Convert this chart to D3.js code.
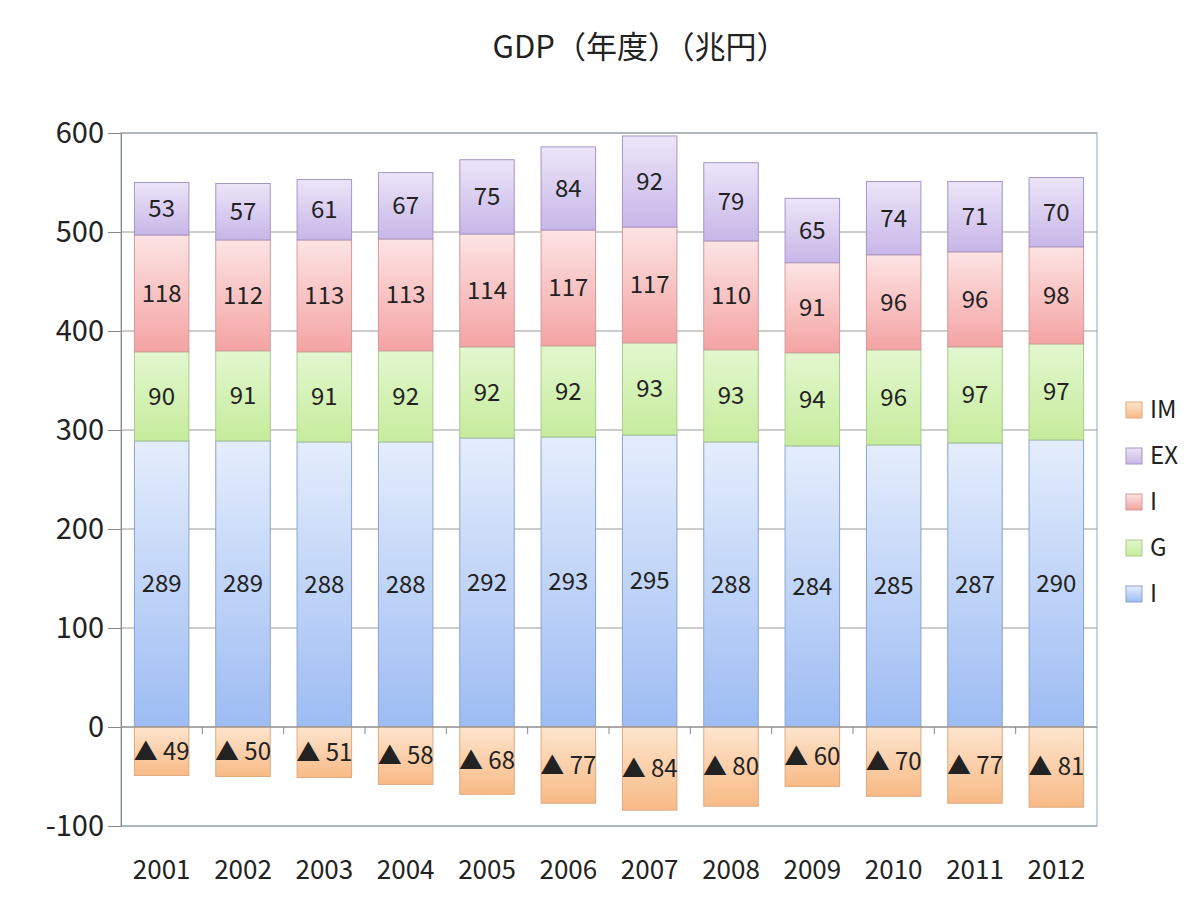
<!DOCTYPE html>
<html>
<head>
<meta charset="utf-8">
<script src="https://cdn.jsdelivr.net/npm/d3@7"></script>
<style>
  body { margin: 0; background: #fff; }
  text { font-family: "Noto Sans CJK JP", "Noto Sans", sans-serif; fill: #222; }
</style>
</head>
<body>
<div id="chart"></div>
<script>
let years = ["2001", "2002", "2003", "2004", "2005", "2006", "2007", "2008", "2009", "2010", "2011", "2012"];
let consumption = [289, 289, 288, 288, 292, 293, 295, 288, 284, 285, 287, 290];
let government = [90, 91, 91, 92, 92, 92, 93, 93, 94, 96, 97, 97];
let investment = [118, 112, 113, 113, 114, 117, 117, 110, 91, 96, 96, 98];
let exports = [53, 57, 61, 67, 75, 84, 92, 79, 65, 74, 71, 70];
let imports = [49, 50, 51, 58, 68, 77, 84, 80, 60, 70, 77, 81];
let yTicks = [-100, 0, 100, 200, 300, 400, 500, 600];
let legendLabels = ["IM", "EX", "I", "G", "I"];

let colors = {
  c:  { top: "#e4edfc", bottom: "#9dbcf3", stroke: "#8aa3cc" },
  g:  { top: "#e3f7cf", bottom: "#c6ec9c", stroke: "#a9c98c" },
  i:  { top: "#fde4e4", bottom: "#f4a3a3", stroke: "#d29a9a" },
  ex: { top: "#ece5f8", bottom: "#c7b6e8", stroke: "#a595c4" },
  im: { top: "#fde5ce", bottom: "#f8ba86", stroke: "#ddaa80" }
};

let width = 1200, height = 900;
let margin = { top: 133, right: 103, bottom: 74, left: 121 };
let innerW = width - margin.left - margin.right;
let innerH = height - margin.top - margin.bottom;

let svg = d3.select("#chart").append("svg")
  .attr("width", width)
  .attr("height", height);

let defs = svg.append("defs");
Object.keys(colors).forEach(k => {
  let grad = defs.append("linearGradient")
    .attr("id", "grad-" + k)
    .attr("x1", 0).attr("y1", 0).attr("x2", 0).attr("y2", 1);
  grad.append("stop").attr("offset", "0%").attr("stop-color", colors[k].top);
  grad.append("stop").attr("offset", "100%").attr("stop-color", colors[k].bottom);
});

svg.append("text")
  .attr("x", 640)
  .attr("y", 58)
  .attr("text-anchor", "middle")
  .style("font-size", "31px")
  .text("GDP（年度）（兆円）");

let g = svg.append("g")
  .attr("transform", "translate(" + margin.left + "," + margin.top + ")");

let x = d3.scaleBand().domain(years).range([0, innerW]).paddingInner(0.33).paddingOuter(0.165);
let xb = d3.scaleBand().domain(years).range([0, innerW]);
let y = d3.scaleLinear().domain([-100, 600]).range([innerH, 0]);

// plot frame
g.append("rect")
  .attr("width", innerW)
  .attr("height", innerH)
  .attr("fill", "none")
  .attr("stroke", "#b7c6d6")
  .attr("stroke-width", 1.5);

// gridlines
g.selectAll(".grid")
  .data(yTicks)
  .enter().append("line")
  .attr("x1", 0).attr("x2", innerW)
  .attr("y1", d => y(d)).attr("y2", d => y(d))
  .attr("stroke", d => d === -100 ? "#8a9aaa" : "#9a9a9a")
  .attr("stroke-width", 1);

// y axis
let yAxis = d3.axisLeft(y).tickValues(yTicks).tickSize(13).tickPadding(4).tickFormat(d => String(d));
let yG = g.append("g").call(yAxis);
yG.select(".domain").attr("stroke", "#888");
yG.selectAll(".tick line").attr("stroke", "#888");
yG.selectAll(".tick text").style("font-size", "29px").attr("fill", "#222");

// stacked positive series
let table = years.map((yr, i) => ({
  year: yr, c: consumption[i], g: government[i], i: investment[i], ex: exports[i]
}));
let keys = ["c", "g", "i", "ex"];
let stacked = d3.stack().keys(keys)(table);

stacked.forEach(layer => {
  let k = layer.key;
  let grp = g.append("g");
  grp.selectAll("rect")
    .data(layer)
    .enter().append("rect")
    .attr("x", d => x(d.data.year))
    .attr("width", x.bandwidth())
    .attr("y", d => y(d[1]))
    .attr("height", d => y(d[0]) - y(d[1]))
    .attr("fill", "url(#grad-" + k + ")")
    .attr("stroke", colors[k].stroke)
    .attr("stroke-width", 1);
  grp.selectAll("text")
    .data(layer)
    .enter().append("text")
    .attr("x", d => x(d.data.year) + x.bandwidth() / 2)
    .attr("y", d => (y(d[0]) + y(d[1])) / 2)
    .attr("dy", "0.35em")
    .attr("text-anchor", "middle")
    .style("font-size", "24px")
    .text(d => d[1] - d[0]);
});

// imports (negative)
let imG = g.append("g");
imG.selectAll("rect")
  .data(imports)
  .enter().append("rect")
  .attr("x", (d, i) => x(years[i]))
  .attr("width", x.bandwidth())
  .attr("y", y(0))
  .attr("height", d => y(-d) - y(0))
  .attr("fill", "url(#grad-im)")
  .attr("stroke", colors.im.stroke)
  .attr("stroke-width", 1);
imG.selectAll("text")
  .data(imports)
  .enter().append("text")
  .attr("x", (d, i) => x(years[i]) + x.bandwidth() / 2)
  .attr("y", d => (y(0) + y(-d)) / 2)
  .attr("dy", "0.35em")
  .attr("text-anchor", "middle")
  .style("font-size", "24px")
  .text(d => "▲ " + d);

// zero line + category ticks
g.append("line")
  .attr("x1", 0).attr("x2", innerW)
  .attr("y1", y(0)).attr("y2", y(0))
  .attr("stroke", "#888");
g.selectAll(".cat-tick")
  .data(years.slice(1))
  .enter().append("line")
  .attr("x1", d => xb(d)).attr("x2", d => xb(d))
  .attr("y1", y(0)).attr("y2", y(0) + 7)
  .attr("stroke", "#888");

// x labels
g.selectAll(".xlabel")
  .data(years)
  .enter().append("text")
  .attr("x", d => xb(d) + xb.bandwidth() / 2)
  .attr("y", innerH + 44)
  .attr("dy", "0.35em")
  .attr("text-anchor", "middle")
  .style("font-size", "26px")
  .text(d => d);

// legend
let legendKeys = ["im", "ex", "i", "g", "c"];
let legend = svg.append("g").attr("transform", "translate(1126, 410)");
legendKeys.forEach((k, i) => {
  let row = legend.append("g").attr("transform", "translate(0," + (i * 46) + ")");
  row.append("rect")
    .attr("x", 0).attr("y", -8)
    .attr("width", 16).attr("height", 16)
    .attr("fill", "url(#grad-" + k + ")")
    .attr("stroke", colors[k].stroke);
  row.append("text")
    .attr("x", 24)
    .attr("y", 0)
    .attr("dy", "0.35em")
    .style("font-size", "24px")
    .text(legendLabels[i]);
});
</script>
</body>
</html>
